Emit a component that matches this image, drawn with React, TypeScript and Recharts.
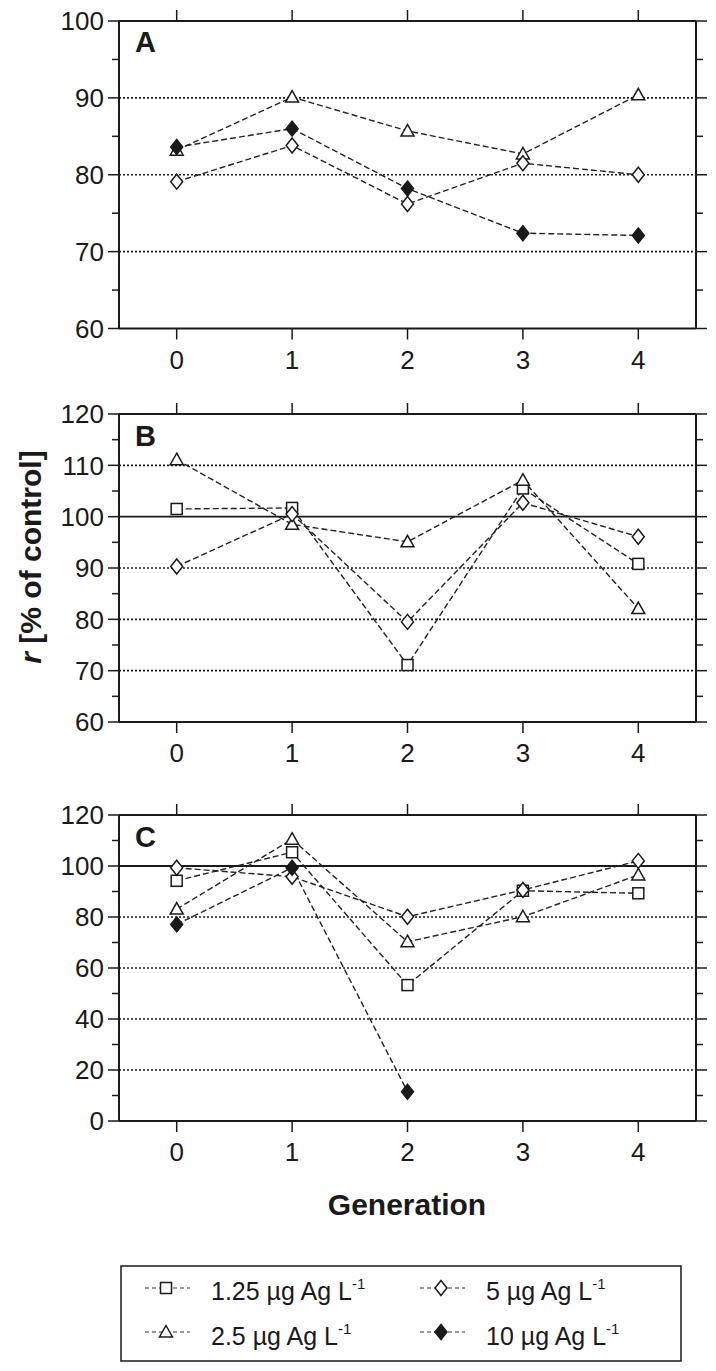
import React from "react";
import { LineChart, Line, XAxis, YAxis, ReferenceLine } from "recharts";

const generations = [0, 1, 2, 3, 4];

// panel A
const aTriangle = [83.2, 90.1, 85.7, 82.7, 90.4];
const aDiamond = [79.1, 83.8, 76.2, 81.5, 80.0];
const aFilled = [83.6, 86.0, 78.2, 72.4, 72.1];
const aTicks = [60, 70, 80, 90, 100];
const aDotted = [70, 80, 90];

// panel B
const bSquare = [101.5, 101.7, 71.1, 105.5, 90.8];
const bTriangle = [111.1, 98.5, 95.1, 107.1, 82.1];
const bDiamond = [90.3, 100.5, 79.5, 102.7, 96.1];
const bTicks = [60, 70, 80, 90, 100, 110, 120];
const bDotted = [70, 80, 90, 110];

// panel C
const cSquare = [94.2, 105.4, 53.3, 90.3, 89.3];
const cTriangle = [83.1, 110.5, 70.3, 80.1, 96.5];
const cDiamond = [99.3, 95.8, 80.1, 90.6, 102.0];
const cFilled = [77.1, 99.3, 11.5, null, null];
const cTicks = [0, 20, 40, 60, 80, 100, 120];
const cDotted = [20, 40, 60, 80];

const seriesNames = ["1.25 µg Ag L", "2.5 µg Ag L", "5 µg Ag L", "10 µg Ag L"];

const FONT = '"Liberation Sans", Arial, sans-serif';
const INK = "#1a1a1a";
const W = 716;
const PAD = 10; // extra room above each panel so the top tick label is not clipped

type Shape = "square" | "triangle" | "diamond" | "filled";

function Marker({ cx, cy, shape }: { cx: number; cy: number; shape: Shape }) {
  const common = { stroke: INK, strokeWidth: 1.5 };
  if (shape === "square") {
    return <rect x={cx - 5.5} y={cy - 5.5} width={11} height={11} fill="#fff" {...common} />;
  }
  if (shape === "triangle") {
    return (
      <polygon
        points={`${cx},${cy - 6.5} ${cx + 6.5},${cy + 5} ${cx - 6.5},${cy + 5}`}
        fill="#fff"
        {...common}
      />
    );
  }
  return (
    <polygon
      points={`${cx},${cy - 7.5} ${cx + 6},${cy} ${cx},${cy + 7.5} ${cx - 6},${cy}`}
      fill={shape === "filled" ? INK : "#fff"}
      {...common}
    />
  );
}

type PanelDef = {
  letter: string;
  top: number;
  plotHeight: number;
  domain: [number, number];
  ticks: number[];
  dotted: number[];
  solid: number[];
  square?: (number | null)[];
  triangle?: (number | null)[];
  diamond?: (number | null)[];
  filled?: (number | null)[];
};

// top = page y of the top axis tick ends (plot top - 12)
const panels: PanelDef[] = [
  { letter: "A", top: 8.5, plotHeight: 307.5, domain: [60, 100], ticks: aTicks, dotted: aDotted, solid: [], triangle: aTriangle, diamond: aDiamond, filled: aFilled },
  { letter: "B", top: 402, plotHeight: 308, domain: [60, 120], ticks: bTicks, dotted: bDotted, solid: [100], square: bSquare, triangle: bTriangle, diamond: bDiamond },
  { letter: "C", top: 803, plotHeight: 306, domain: [0, 120], ticks: cTicks, dotted: cDotted, solid: [100], square: cSquare, triangle: cTriangle, diamond: cDiamond, filled: cFilled },
];

const axisLine = { stroke: INK, strokeWidth: 2 };

function Panel({ p }: { p: PanelDef }) {
  const rows = generations.map((g, i) => ({
    gen: g,
    square: p.square ? p.square[i] : null,
    triangle: p.triangle ? p.triangle[i] : null,
    diamond: p.diamond ? p.diamond[i] : null,
    filled: p.filled ? p.filled[i] : null,
  }));
  const step = p.ticks[1] - p.ticks[0];
  const allTicks: number[] = [];
  p.ticks.forEach((t, i) => {
    allTicks.push(t);
    if (i < p.ticks.length - 1) allTicks.push(t + step / 2);
  });
  const isMajor = (v: number) => p.ticks.includes(v);

  const leftTick = (props: any) => {
    const { x, y, payload } = props;
    const major = isMajor(payload.value);
    const len = major ? 11 : 7;
    return (
      <g>
        <line x1={x} y1={y} x2={x - len} y2={y} stroke={INK} strokeWidth={1.5} />
        {major && (
          <text x={x - 15} y={y + 9.3} textAnchor="end" fontSize={26} fontFamily={FONT} fill={INK}>
            {payload.value}
          </text>
        )}
      </g>
    );
  };
  const rightTick = (props: any) => {
    const { x, y, payload } = props;
    const len = isMajor(payload.value) ? 11 : 7;
    return <line x1={x} y1={y} x2={x + len} y2={y} stroke={INK} strokeWidth={1.5} />;
  };
  const bottomTick = (props: any) => {
    const { x, y, payload } = props;
    return (
      <g>
        <line x1={x} y1={y} x2={x} y2={y + 11} stroke={INK} strokeWidth={1.5} />
        <text x={x} y={y + 40} textAnchor="middle" fontSize={26} fontFamily={FONT} fill={INK}>
          {payload.value}
        </text>
      </g>
    );
  };
  const topTick = (props: any) => {
    const { x, y } = props;
    return <line x1={x} y1={y} x2={x} y2={y - 11} stroke={INK} strokeWidth={1.5} />;
  };

  const dot = (shape: Shape) => (props: any) => {
    const { cx, cy, index, value } = props;
    if (value == null || cx == null || cy == null) return <g key={`${shape}-${index}`} />;
    return <Marker key={`${shape}-${index}`} cx={cx} cy={cy} shape={shape} />;
  };

  const series: { key: Shape; values?: (number | null)[] }[] = [
    { key: "square", values: p.square },
    { key: "triangle", values: p.triangle },
    { key: "diamond", values: p.diamond },
    { key: "filled", values: p.filled },
  ];

  return (
    <div style={{ position: "absolute", left: 0, top: p.top - PAD }}>
      <LineChart width={W} height={PAD + 12 + p.plotHeight + 40 + 20} data={rows} margin={{ top: PAD, right: 0, bottom: 20, left: 0 }}>
        <XAxis xAxisId="b" dataKey="gen" type="number" domain={[-0.5, 4.5]} ticks={generations} interval={0}
          orientation="bottom" height={40} tickSize={0} tickMargin={0} tickLine={false} axisLine={axisLine} tick={bottomTick} allowDataOverflow />
        <XAxis xAxisId="t" dataKey="gen" type="number" domain={[-0.5, 4.5]} ticks={generations} interval={0}
          orientation="top" height={12} tickSize={0} tickMargin={0} tickLine={false} axisLine={axisLine} tick={topTick} allowDataOverflow />
        <YAxis yAxisId="l" type="number" domain={p.domain} ticks={allTicks} interval={0} width={119}
          tickSize={0} tickMargin={0} tickLine={false} axisLine={axisLine} tick={leftTick} allowDataOverflow />
        <YAxis yAxisId="r" orientation="right" type="number" domain={p.domain} ticks={allTicks} interval={0} width={20}
          tickSize={0} tickMargin={0} tickLine={false} axisLine={axisLine} tick={rightTick} allowDataOverflow />
        {p.dotted.map((v) => (
          <ReferenceLine key={`d${v}`} xAxisId="b" yAxisId="l" y={v} stroke={INK} strokeWidth={1.6} strokeDasharray="2 2" />
        ))}
        {p.solid.map((v) => (
          <ReferenceLine key={`s${v}`} xAxisId="b" yAxisId="l" y={v} stroke={INK} strokeWidth={1.8} />
        ))}
        {series
          .filter((s) => s.values)
          .map((s) => (
            <Line key={s.key} xAxisId="b" yAxisId="l" dataKey={s.key} stroke="#222" strokeWidth={1.4}
              strokeDasharray="6 3" dot={dot(s.key)} activeDot={false} isAnimationActive={false} connectNulls={false} />
          ))}
      </LineChart>
    </div>
  );
}

const legendItems: { shape: Shape; name: string; x: number; row: number }[] = [
  { shape: "square", name: seriesNames[0], x: 145, row: 0 },
  { shape: "diamond", name: seriesNames[2], x: 420, row: 0 },
  { shape: "triangle", name: seriesNames[1], x: 145, row: 1 },
  { shape: "filled", name: seriesNames[3], x: 420, row: 1 },
];

function Overlay() {
  return (
    <svg width={W} height={1371} style={{ position: "absolute", left: 0, top: 0, pointerEvents: "none" }} fontFamily={FONT}>
      {panels.map((p) => (
        <text key={p.letter} x={135} y={p.top + 12 + 31.5} fontSize={29} fontWeight="bold" fill={INK}>
          {p.letter}
        </text>
      ))}
      <text transform="translate(41,557) rotate(-90)" textAnchor="middle" fontSize={30} fontWeight="bold" fill={INK}>
        <tspan fontStyle="italic">r</tspan> [% of control]
      </text>
      <text x={407} y={1215} textAnchor="middle" fontSize={30} fontWeight="bold" fill={INK}>
        Generation
      </text>
      <rect x={121} y={1266} width={560} height={95} fill="none" stroke={INK} strokeWidth={1.5} />
      {legendItems.map((it) => {
        const cy = it.row === 0 ? 1288 : 1332;
        const base = it.row === 0 ? 1300 : 1345;
        return (
          <g key={it.name}>
            <line x1={it.x} y1={cy} x2={it.x + 45} y2={cy} stroke="#333" strokeWidth={1.2} strokeDasharray="4 3" />
            <Marker cx={it.x + 21} cy={cy} shape={it.shape} />
            <text x={it.x + 66} y={base} fontSize={25} fill={INK}>
              {it.name}
              <tspan dy={-11} fontSize={15}>-1</tspan>
            </text>
          </g>
        );
      })}
    </svg>
  );
}

export default function App() {
  return (
    <div style={{ position: "absolute", left: 0, top: 0, width: W, height: 1371, background: "#fff" }}>
      {panels.map((p) => (
        <Panel key={p.letter} p={p} />
      ))}
      <Overlay />
    </div>
  );
}
